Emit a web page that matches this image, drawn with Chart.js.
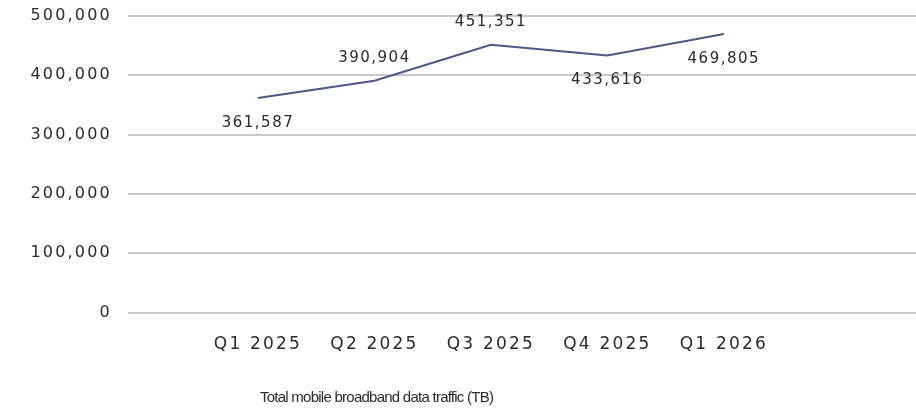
<!DOCTYPE html>
<html>
<head>
<meta charset="utf-8">
<script src="https://cdn.jsdelivr.net/npm/chart.js@4"></script>
<style>
  html, body { margin: 0; padding: 0; background: #fff; }
  #wrap { width: 916px; height: 414px; }
</style>
</head>
<body>
<div id="wrap"><canvas id="myChart"></canvas></div>
<script>
var quarters = ["Q1 2025", "Q2 2025", "Q3 2025", "Q4 2025", "Q1 2026"];
var traffic = [361587, 390904, 451351, 433616, 469805];
var labelSide = ["below", "above", "above", "below", "below"];
var caption = "Total mobile broadband data traffic (TB)";

var points = [];
for (var i = 0; i < traffic.length; i++) {
    points.push({ x: i, y: traffic[i] });
}

// the source uses a wide, loosely spaced face; fake it with letter spacing
const spacing = {
    id: 'letter_spacing',
    beforeUpdate: (chart) => { chart.ctx.letterSpacing = '2.2px'; },
    beforeDraw: (chart) => { chart.ctx.letterSpacing = '2.2px'; }
};

const valueLabels = {
    id: 'value_labels',
    afterDatasetsDraw: (chart) => {
        const {ctx} = chart;
        const meta = chart.getDatasetMeta(0);
        ctx.save();
        ctx.letterSpacing = '1.5px';
        ctx.font = '15px "DejaVu Sans"';
        ctx.fillStyle = '#2b2b2b';
        ctx.textAlign = 'center';
        ctx.textBaseline = 'middle';
        meta.data.forEach((pt, i) => {
            var dy = labelSide[i] == "above" ? -23 : 25;
            ctx.fillText(traffic[i].toLocaleString('en-US'), pt.x, pt.y + dy);
        });
        // caption under the axis
        ctx.letterSpacing = '-0.75px';
        ctx.font = '15px "Liberation Sans"';
        ctx.textAlign = 'left';
        ctx.fillText(caption, 260, 398);
        ctx.restore();
    }
};

new Chart("myChart", {
    type: "line",
    plugins: [spacing, valueLabels],
    data: {
        datasets: [{
            data: points,
            borderColor: "#4a5a84",
            borderWidth: 2,
            pointRadius: 0,
            tension: 0,
            fill: false
        }]
    },
    options: {
        responsive: true,
        maintainAspectRatio: false,
        animation: false,
        layout: { padding: { top: 16, right: 0, bottom: 37, left: 0 } },
        plugins: {
            legend: { display: false },
            tooltip: { enabled: false }
        },
        scales: {
            x: {
                type: 'linear',
                min: -1.116,
                max: 5.65,
                grid: { display: false, drawTicks: false },
                border: { display: false },
                ticks: {
                    stepSize: 1,
                    autoSkip: false,
                    includeBounds: false,
                    maxRotation: 0,
                    padding: 22,
                    color: '#2b2b2b',
                    font: { family: '"DejaVu Sans"', size: 17 },
                    callback: (v) => (Number.isInteger(v) && quarters[v]) ? quarters[v] : ''
                }
            },
            y: {
                min: 0,
                max: 500000,
                afterFit: (s) => { s.width = 128; s.paddingTop = 0; s.paddingBottom = 0; },
                grid: { color: '#c8c8c8', lineWidth: 2, drawTicks: false },
                border: { display: false },
                ticks: {
                    stepSize: 100000,
                    padding: 16,
                    color: '#2b2b2b',
                    font: { family: '"DejaVu Sans"', size: 16 },
                    callback: (v) => v.toLocaleString('en-US')
                }
            }
        }
    }
});
</script>
</body>
</html>
